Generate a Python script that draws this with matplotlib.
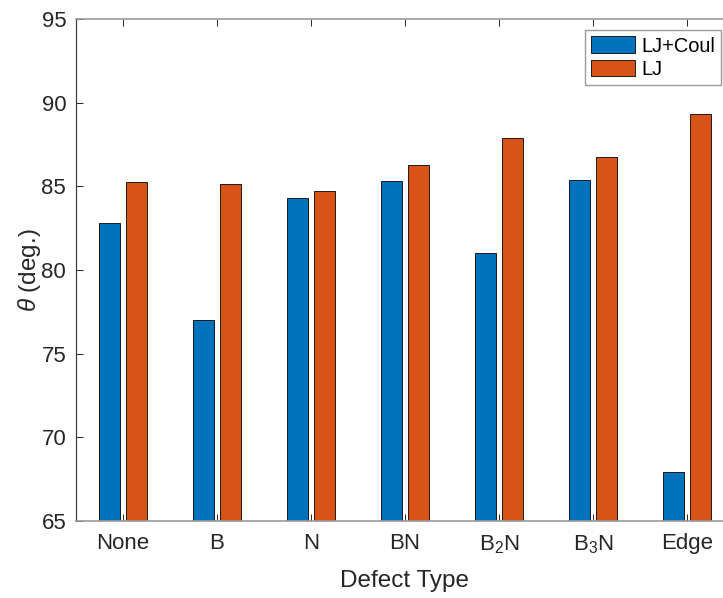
import numpy as np
import matplotlib
matplotlib.use('Agg')
import matplotlib.pyplot as plt

# ---------- DATA ----------
defects = ['None', 'B', 'N', 'BN', 'B$_2$N', 'B$_3$N', 'Edge']
lj_coul = [82.8, 77.0, 84.3, 85.3, 81.0, 85.35, 67.95]
lj = [85.25, 85.15, 84.7, 86.25, 87.9, 86.75, 89.35]

plt.rcParams['font.family'] = ['Liberation Sans', 'DejaVu Sans']
plt.rcParams['mathtext.fontset'] = 'custom'
plt.rcParams['mathtext.rm'] = 'Liberation Sans'
plt.rcParams['mathtext.it'] = 'Liberation Sans:italic'

fig = plt.figure(figsize=(7.23, 5.98), dpi=100)
# axes runs a bit past the right edge (picture is cropped there)
ax = fig.add_axes([0.105, 0.1288, 0.910, 0.8395])

x = np.arange(1, len(defects) + 1)
w = 0.222
ax.bar(x - 0.143, lj_coul, w, color='#0072BD', edgecolor='#1a1a1a', linewidth=0.7, label='LJ+Coul')
ax.bar(x + 0.143, lj, w, color='#D95319', edgecolor='#1a1a1a', linewidth=0.7, label='LJ')

ax.set_xlim(0.5, 7.5)
ax.set_ylim(65, 95)
ax.set_xticks(x)
ax.set_xticklabels(defects)
ax.set_yticks(np.arange(65, 96, 5))
ax.tick_params(direction='in', length=5, width=0.7, color='#262626',
               labelsize=16, labelcolor='#262626', top=True, pad=7)
ax.tick_params(axis='x', pad=9)

for s in ['top', 'bottom']:
    ax.spines[s].set_color('#9a9a9a')
    ax.spines[s].set_linewidth(1.2)
ax.spines['left'].set_color('#404040')
ax.spines['left'].set_linewidth(0.9)
ax.spines['right'].set_visible(False)

ax.set_xlabel('Defect Type', fontsize=17.5, color='#262626', labelpad=10)
ax.set_ylabel(r'$\theta$ (deg.)', fontsize=17.5, color='#262626', labelpad=-1)

leg = ax.legend(loc='upper right', bbox_to_anchor=(0.997, 0.949), bbox_transform=fig.transFigure,
                borderaxespad=0, fancybox=False, fontsize=14.4, handlelength=2.2, handleheight=0.9,
                handletextpad=0.3, labelspacing=0.2, borderpad=0.3, framealpha=1)
leg.get_frame().set_edgecolor('#9a9a9a')
leg.get_frame().set_linewidth(1.0)

plt.savefig('out.png', dpi=100)
